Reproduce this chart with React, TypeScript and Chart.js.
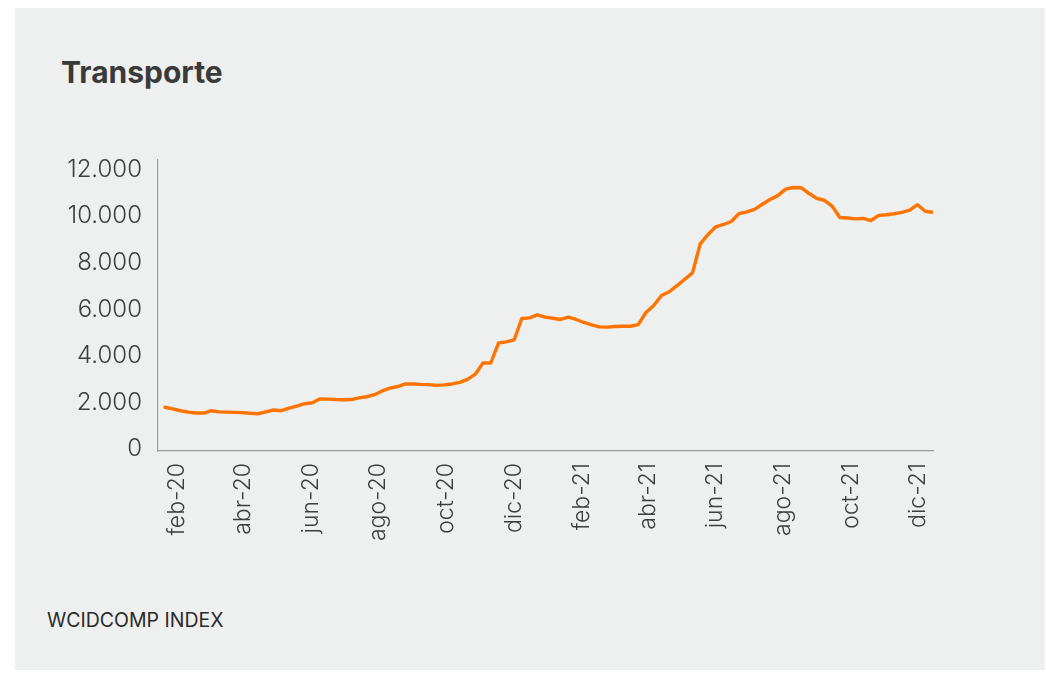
import React, { useEffect, useRef } from "react";
import { Chart, registerables } from "chart.js";

Chart.register(...registerables);

// Weekly observations, first week ending 2020-01-24
const firstWeek = "2020-01-24";
const seriesValues = [
  1880, 1810, 1730, 1670, 1630, 1630, 1730, 1680, 1670, 1660,
  1650, 1620, 1600, 1680, 1760, 1730, 1840, 1930, 2030, 2070,
  2240, 2230, 2210, 2200, 2210, 2280, 2330, 2420, 2580, 2700,
  2770, 2880, 2880, 2860, 2850, 2820, 2840, 2880, 2950, 3080,
  3300, 3780, 3780, 4640, 4690, 4770, 5690, 5720, 5850, 5750,
  5700, 5650, 5750, 5650, 5520, 5420, 5330, 5320, 5350, 5360,
  5360, 5430, 5950, 6250, 6680, 6840, 7100, 7380, 7650, 8900,
  9300, 9630, 9730, 9860, 10200, 10270, 10380, 10600, 10800, 10970,
  11250, 11320, 11310, 11070, 10850, 10770, 10520, 10030, 10010, 9970,
  9990, 9900, 10120, 10150, 10190, 10250, 10350, 10580, 10300, 10250,
];

const tickLabels = [
  "feb-20", "abr-20", "jun-20", "ago-20", "oct-20", "dic-20",
  "feb-21", "abr-21", "jun-21", "ago-21", "oct-21", "dic-21",
];
const tickDates = [
  "2020-02-01", "2020-04-01", "2020-06-01", "2020-08-01", "2020-10-01", "2020-12-01",
  "2021-02-01", "2021-04-01", "2021-06-01", "2021-08-01", "2021-10-01", "2021-12-01",
];
const yTicks = [0, 2000, 4000, 6000, 8000, 10000, 12000];

const title = "Transporte";
const source = "WCIDCOMP INDEX";

const DAY = 86400000;
const origin = Date.parse("2020-02-01T00:00:00Z");
const toDay = (iso: string) => (Date.parse(iso + "T00:00:00Z") - origin) / DAY;

const FONT = "Inter, 'Open Sans', sans-serif";

export default function App() {
  const ref = useRef<HTMLCanvasElement | null>(null);

  useEffect(() => {
    if (!ref.current) return;
    const start = toDay(firstWeek);
    const points = seriesValues.map((v, i) => ({ x: start + 7 * i, y: v }));
    const last = points[points.length - 1].x;
    const tickDays = tickDates.map(toDay);

    const chart = new Chart(ref.current, {
      type: "line",
      data: {
        datasets: [
          {
            data: points,
            borderColor: "#ff7300",
            borderWidth: 3.4,
            pointRadius: 0,
            tension: 0,
            fill: false,
            borderJoinStyle: "round",
            borderCapStyle: "round",
          },
        ],
      },
      options: {
        animation: false,
        responsive: false,
        devicePixelRatio: 1,
        layout: { padding: { top: 160, right: 113, bottom: 0, left: 0 } },
        plugins: { legend: { display: false }, tooltip: { enabled: false }, title: { display: false } },
        scales: {
          x: {
            type: "linear",
            min: start - 6.3,
            max: last,
            afterFit: (s: any) => {
              s.height = 674 - 451;
            },
            afterBuildTicks: (s: any) => {
              s.ticks = tickDays.map((d) => ({ value: d }));
            },
            grid: { display: true, drawOnChartArea: false, drawTicks: false },
            border: { display: true, color: "#9d9d9d", width: 1.2 },
            ticks: {
              autoSkip: false,
              maxRotation: 90,
              minRotation: 90,
              padding: 12,
              labelOffset: 3,
              color: "#3d3d3d",
              font: { family: FONT, size: 23, weight: "300" },
              callback: (_v: any, i: number) => tickLabels[i],
            },
          },
          y: {
            min: 0,
            max: 12500,
            afterFit: (s: any) => {
              s.width = 158;
            },
            afterBuildTicks: (s: any) => {
              s.ticks = yTicks.map((v) => ({ value: v }));
            },
            grid: { display: true, drawOnChartArea: false, drawTicks: false },
            border: { display: true, color: "#9d9d9d", width: 1.2 },
            ticks: {
              padding: 16,
              labelOffset: -2,
              color: "#3d3d3d",
              font: { family: FONT, size: 24, weight: "300" },
              callback: (v: any) => Number(v).toLocaleString("de-DE"),
            },
          },
        },
      },
    });
    return () => chart.destroy();
  }, []);

  return (
    <div style={{ position: "fixed", left: 0, top: 0, width: 1046, height: 674, background: "#ffffff" }}>
      <div
        style={{
          position: "absolute",
          left: 15,
          top: 8,
          width: 1030,
          height: 662,
          background: "#eeefef",
        }}
      />
      <div
        style={{
          position: "absolute",
          left: 61,
          top: 57,
          fontFamily: FONT,
          fontWeight: 700,
          fontSize: 30,
          lineHeight: "30px",
          color: "#3a3a3a",
          whiteSpace: "nowrap",
        }}
      >
        {title}
      </div>
      <div
        style={{
          position: "absolute",
          left: 47,
          top: 611,
          fontFamily: FONT,
          fontWeight: 400,
          fontSize: 19.5,
          lineHeight: "19px",
          color: "#2a2a2a",
          whiteSpace: "nowrap",
        }}
      >
        {source}
      </div>
      <canvas
        ref={ref}
        width={1046}
        height={674}
        style={{ position: "absolute", left: 0, top: 0, width: 1046, height: 674 }}
      />
    </div>
  );
}
